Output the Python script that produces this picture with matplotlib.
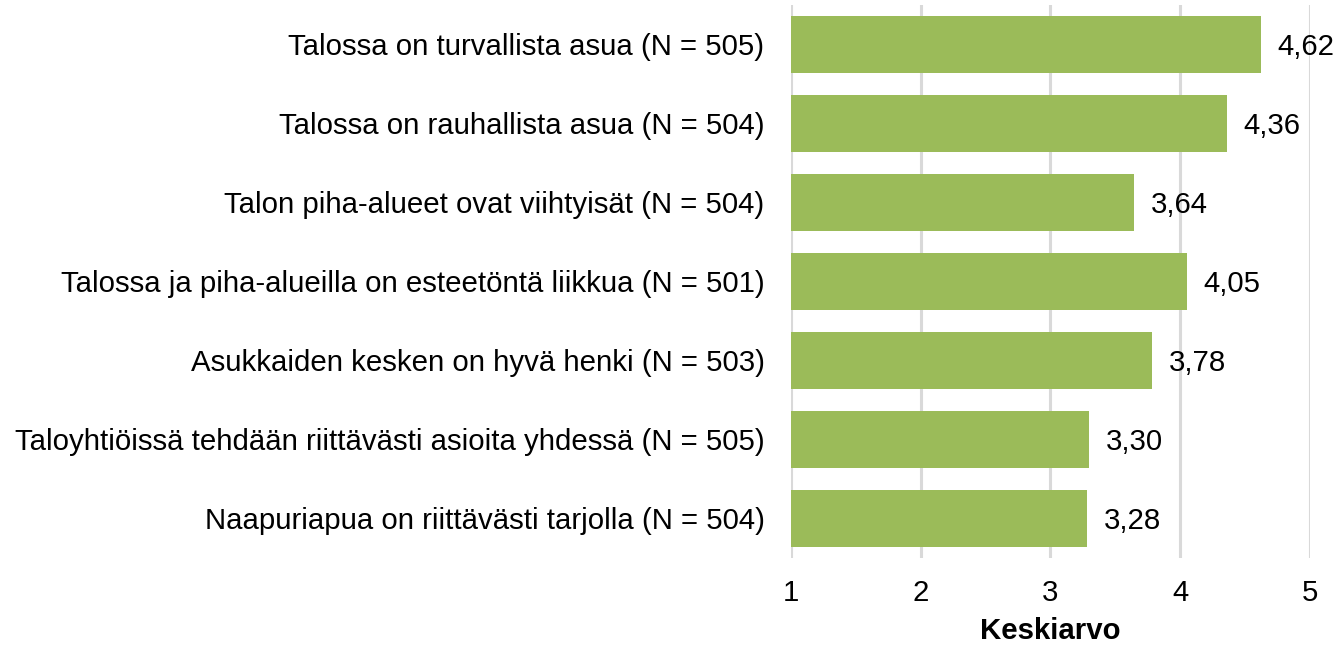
import numpy as np
import matplotlib.pyplot as plt

plt.rcParams['font.family'] = ['Liberation Sans', 'DejaVu Sans']

labels = [
    "Talossa on turvallista asua (N = 505)",
    "Talossa on rauhallista asua (N = 504)",
    "Talon piha-alueet ovat viihtyisät (N = 504)",
    "Talossa ja piha-alueilla on esteetöntä liikkua (N = 501)",
    "Asukkaiden kesken on hyvä henki (N = 503)",
    "Taloyhtiöissä tehdään riittävästi asioita yhdessä (N = 505)",
    "Naapuriapua on riittävästi tarjolla (N = 504)",
]
values = [4.62, 4.36, 3.64, 4.05, 3.78, 3.30, 3.28]

fig = plt.figure(figsize=(13.37, 6.47), dpi=100)
ax = fig.add_axes([0.5916, 0.1376, 0.3882, 0.8547])

fs = 21.2
y = np.arange(len(labels))
ax.barh(y, np.array(values) - 1, left=1, height=0.71, color="#9BBB59", zorder=3)
for yi, v in zip(y, values):
    ax.text(v + 0.13, yi + 0.03, f"{v:.2f}".replace(".", ","), va="center",
            ha="left", fontsize=fs, color="black", zorder=4)

ax.set_xlim(1, 5)
ax.set_ylim(len(labels) - 0.5, -0.5)
ax.set_xticks([1, 2, 3, 4, 5])
ax.set_yticks(y)
ax.set_yticklabels(labels)
ax.tick_params(axis="y", length=0, pad=19, labelsize=fs)
ax.tick_params(axis="x", length=0, pad=15, labelsize=fs)
ax.grid(axis="x", color="#d9d9d9", linewidth=2.2, zorder=0)
for s in ax.spines.values():
    s.set_visible(False)
ax.set_xlabel("Keskiarvo", fontsize=fs, fontweight="bold", labelpad=7)

fig.savefig("out.png", dpi=100)
